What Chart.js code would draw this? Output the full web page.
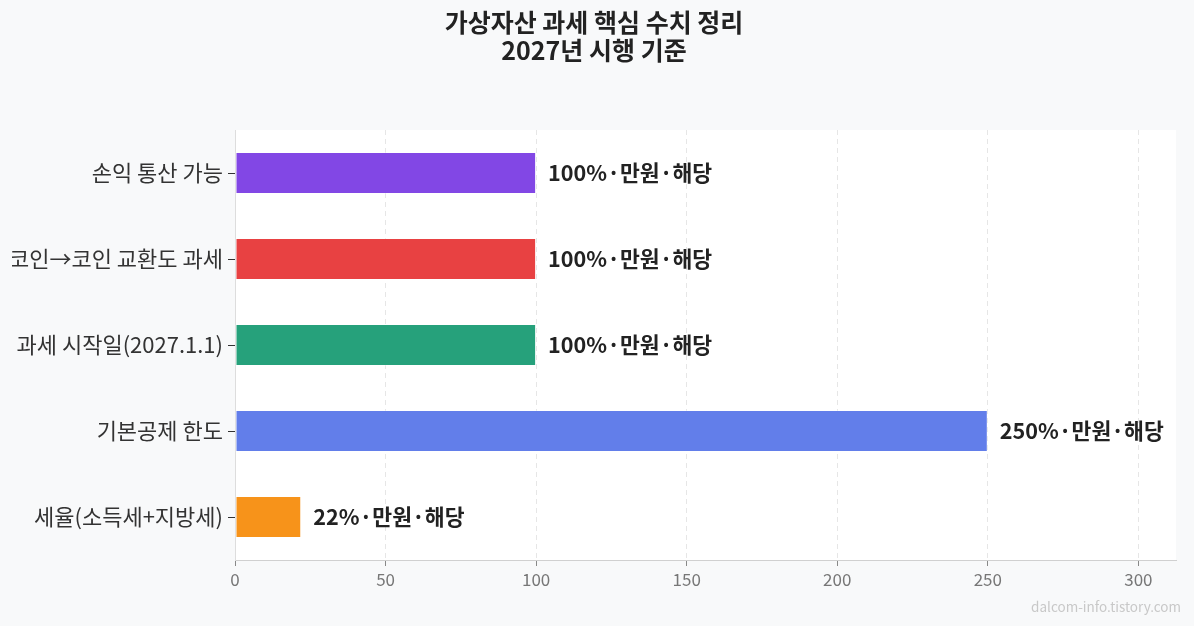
<!DOCTYPE html>
<html><head><meta charset="utf-8">
<script src="https://cdn.jsdelivr.net/npm/chart.js@4"></script>
<style>html,body{margin:0;padding:0;background:#f8f9fa;}#wrap{width:1194px;height:626px;position:relative;}</style>
</head><body><div id="wrap"><canvas id="c" width="1194" height="626"></canvas></div>
<script>
const categories = ['손익 통산 가능', '코인→코인 교환도 과세', '과세 시작일(2027.1.1)', '기본공제 한도', '세율(소득세+지방세)'];
const values = [100, 100, 100, 250, 22];
const labelSuffix = '%·만원·해당';
const barColors = ['#8247e5', '#e84142', '#26a17b', '#627eea', '#f7931a'];
const xTickValues = [0, 50, 100, 150, 200, 250, 300];
const titleLines = ['가상자산 과세 핵심 수치 정리', '2027년 시행 기준'];
const watermark = 'dalcom-info.tistory.com';
const FONT = "'Noto Sans CJK KR', 'Noto Sans', sans-serif";

const bgPlugin = {
  id: 'bg',
  beforeDraw(chart) {
    const {ctx, chartArea: a} = chart;
    ctx.save();
    ctx.fillStyle = '#f8f9fa';
    ctx.fillRect(0, 0, chart.width, chart.height);
    ctx.fillStyle = '#ffffff';
    ctx.fillRect(a.left, a.top, a.right - a.left, a.bottom - a.top);
    ctx.restore();
  }
};
const labelPlugin = {
  id: 'vlabels',
  afterDatasetsDraw(chart) {
    const {ctx} = chart;
    const meta = chart.getDatasetMeta(0);
    ctx.save();
    ctx.font = "bold 21.6px " + FONT;
    ctx.fillStyle = '#222222';
    ctx.textAlign = 'left';
    ctx.textBaseline = 'middle';
    meta.data.forEach((bar, i) => {
      ctx.fillText(values[i] + labelSuffix, bar.x + 12, bar.y);
    });
    ctx.font = "13.5px " + FONT;
    ctx.fillStyle = '#c8c8c8';
    ctx.textAlign = 'right';
    ctx.fillText(watermark, chart.width - 13, 607);
    ctx.restore();
  }
};

new Chart(document.getElementById('c'), {
  type: 'bar',
  data: {
    labels: categories,
    datasets: [{
      data: values,
      backgroundColor: barColors,
      borderColor: 'rgba(255,255,255,0.35)',
      borderWidth: 1,
      borderSkipped: false,
      barPercentage: 0.49,
      categoryPercentage: 1.0
    }]
  },
  options: {
    indexAxis: 'y',
    responsive: false,
    animation: false,
    devicePixelRatio: 1,
    layout: {padding: {left: 12, right: 18, top: 0, bottom: 0}},
    plugins: {
      legend: {display: false},
      tooltip: {enabled: false},
      title: {
        display: true,
        text: titleLines,
        color: '#222222',
        font: {family: FONT, size: 25, weight: 'bold', lineHeight: 1.1},
        padding: {top: 9, bottom: 66}
      }
    },
    scales: {
      x: {
        min: 0,
        max: 312.5,
        afterFit: s => { s.height = 66; },
        afterBuildTicks: s => { s.ticks = xTickValues.map(v => ({value: v})); },
        ticks: {color: '#777777', font: {family: FONT, size: 17}, padding: 3},
        grid: {color: '#e6e6e6', lineWidth: 1, drawTicks: true, tickLength: 6, tickColor: '#888888'},
        border: {display: true, color: '#d0d0d0', width: 1, dash: [5, 4]}
      },
      y: {
        afterFit: s => { s.width = 223; },
        ticks: {color: '#333333', font: {family: FONT, size: 22}, padding: 5},
        grid: {offset: false, drawOnChartArea: false, drawTicks: true, tickLength: 7, tickColor: '#333333'},
        border: {display: true, color: '#dddddd', width: 1}
      }
    }
  },
  plugins: [bgPlugin, labelPlugin]
});
</script></body></html>
